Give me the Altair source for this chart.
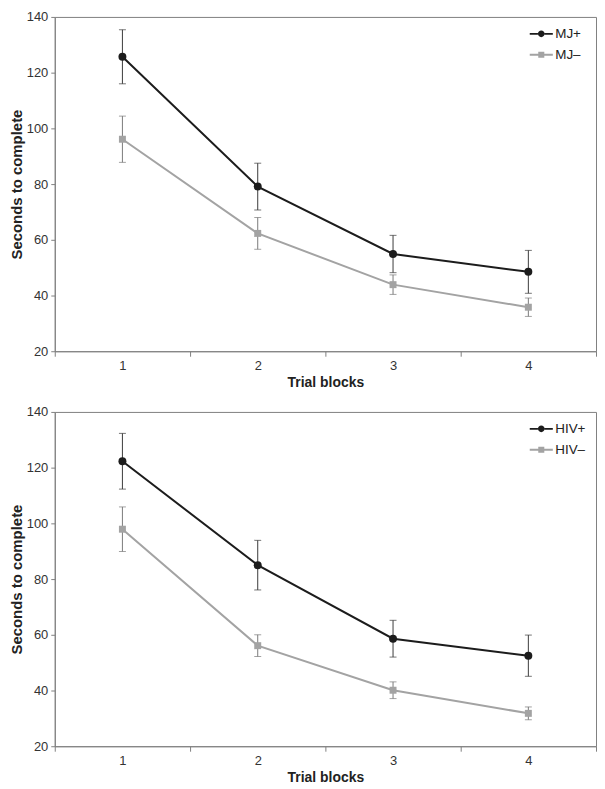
import altair as alt
import pandas as pd

blocks = ["1", "2", "3", "4"]

mj_groups = ["MJ+", "MJ–"]
mj_pos_mean = [125.7, 79.1, 54.9, 48.5]
mj_pos_err = [9.7, 8.4, 6.7, 7.7]
mj_neg_mean = [96.1, 62.3, 43.9, 35.8]
mj_neg_err = [8.3, 5.7, 3.5, 3.3]

hiv_groups = ["HIV+", "HIV–"]
hiv_pos_mean = [122.3, 85.0, 58.6, 52.5]
hiv_pos_err = [10.0, 8.9, 6.6, 7.4]
hiv_neg_mean = [97.9, 56.1, 40.1, 31.8]
hiv_neg_err = [8.0, 3.9, 3.0, 2.3]

y_ticks = [20, 40, 60, 80, 100, 120, 140]

DARK = "#1c1c1c"
GRAY = "#a3a3a3"
ERR = ["#3a3a3a", "#7a7a7a"]
FONT = "Liberation Sans"

CIRCLE_PATH = ("M-1.45,-0.12H-0.42V0.12H-1.45Z M0.42,-0.12H1.45V0.12H0.42Z "
               "M-0.42,0A0.42,0.42 0 1,0 0.42,0A0.42,0.42 0 1,0 -0.42,0Z")
SQUARE_PATH = ("M-1.45,-0.12H-0.38V0.12H-1.45Z M0.38,-0.12H1.45V0.12H0.38Z "
               "M-0.38,-0.38H0.38V0.38H-0.38Z")


def panel(groups, means, errs):
    rows = []
    for g, m, e in zip(groups, means, errs):
        for b, mv, ev in zip(blocks, m, e):
            rows.append(dict(block=b, group=g, mean=mv, lo=mv - ev, hi=mv + ev))
    df = pd.DataFrame(rows)

    x = alt.X("block:O",
              scale=alt.Scale(type="band", paddingInner=0, paddingOuter=0),
              axis=alt.Axis(title="Trial blocks", labelAngle=0, tickBand="extent",
                            tickSize=5, labelPadding=3, titlePadding=3,
                            titleFontSize=14))
    yscale = alt.Scale(domain=[20, 140], nice=False, zero=False)
    yaxis = alt.Axis(title="Seconds to complete", values=y_ticks, grid=False,
                     tickSize=4, labelPadding=3, titlePadding=2, titleFontSize=15)
    base = alt.Chart(df)

    layers = []
    colors = [DARK, GRAY]
    shapes = ["circle", "square"]
    sizes = [64, 49]
    for i, g in enumerate(groups):
        sub = base.transform_filter(alt.datum.group == g)
        layers.append(sub.mark_rule(color=ERR[i], strokeWidth=1).encode(
            x=x, y=alt.Y("lo:Q", scale=yscale, axis=yaxis), y2="hi:Q"))
        layers.append(sub.mark_tick(color=ERR[i], size=7, thickness=1).encode(
            x=x, y=alt.Y("lo:Q", scale=yscale, axis=yaxis)))
        layers.append(sub.mark_tick(color=ERR[i], size=7, thickness=1).encode(
            x=x, y=alt.Y("hi:Q", scale=yscale, axis=yaxis)))
    for i, g in enumerate(groups):
        sub = base.transform_filter(alt.datum.group == g)
        layers.append(sub.mark_line(color=colors[i], strokeWidth=2).encode(
            x=x, y=alt.Y("mean:Q", scale=yscale, axis=yaxis)))
        layers.append(sub.mark_point(shape=shapes[i], filled=True, opacity=1,
                                     color=colors[i], size=sizes[i]).encode(
            x=x, y=alt.Y("mean:Q", scale=yscale, axis=yaxis)))

    leg = alt.Legend(title=None, orient="none", legendX=481, legendY=9,
                     symbolSize=256, symbolOpacity=1, symbolStrokeWidth=0,
                     labelFontSize=13.5, labelFont=FONT, labelColor="#222",
                     labelOffset=6, rowPadding=6, padding=0)
    layers.append(base.mark_point(filled=True, opacity=0).encode(
        x=x, y=alt.Y("mean:Q", scale=yscale, axis=yaxis),
        color=alt.Color("group:N", scale=alt.Scale(domain=groups, range=colors), legend=leg),
        shape=alt.Shape("group:N", scale=alt.Scale(domain=groups, range=[CIRCLE_PATH, SQUARE_PATH]),
                        legend=leg)))
    return alt.layer(*layers).properties(width=544, height=336)


top = panel(mj_groups, [mj_pos_mean, mj_neg_mean], [mj_pos_err, mj_neg_err])
bottom = panel(hiv_groups, [hiv_pos_mean, hiv_neg_mean], [hiv_pos_err, hiv_neg_err])

chart = alt.vconcat(top, bottom, spacing=15).resolve_scale(
    color="independent", shape="independent").resolve_legend(
    color="independent", shape="independent").properties(
    padding={"left": 0, "top": 0, "right": 0, "bottom": 0}
).configure_view(stroke="#808080", strokeWidth=1).configure_axis(
    domainColor="#808080", tickColor="#808080", labelColor="#333333",
    titleColor="#222222", labelFont=FONT, titleFont=FONT, labelFontSize=13,
    titleFontSize=13, titleFontWeight="bold"
)

chart.save("out.html", embed_options={"renderer": "svg", "actions": False})
